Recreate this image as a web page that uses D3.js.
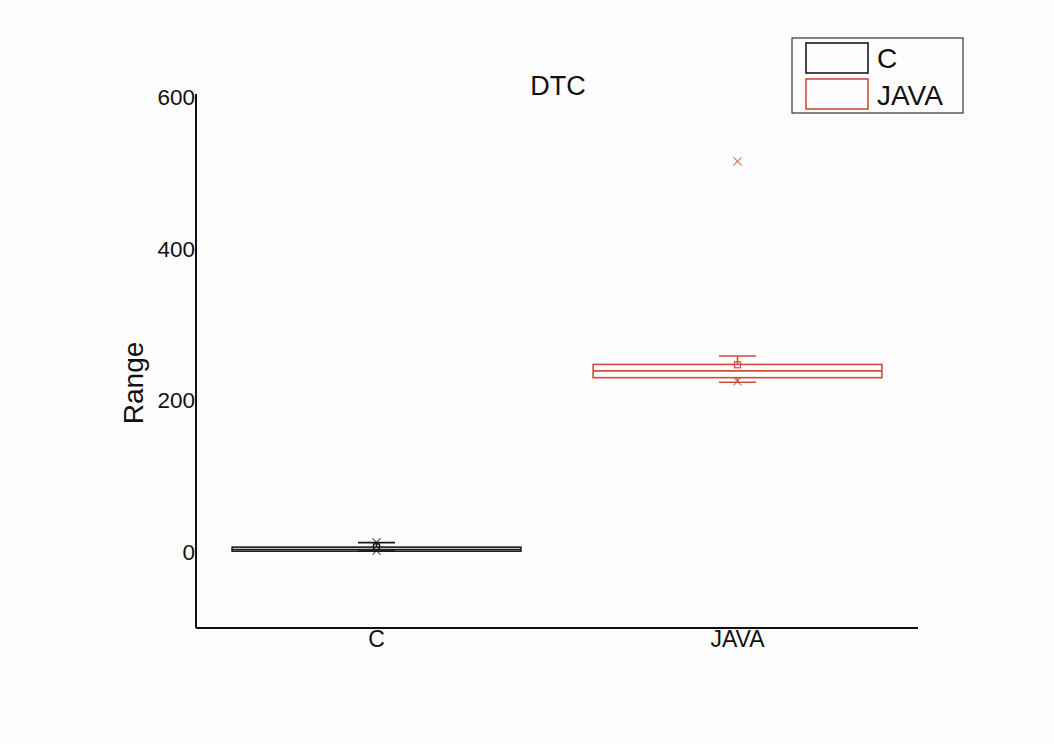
<!DOCTYPE html>
<html>
<head>
<meta charset="utf-8">
<script src="https://cdn.jsdelivr.net/npm/d3@7"></script>
<style>
  body { margin: 0; background: #fdfdfd; }
  text { font-family: "Liberation Sans", Arial, sans-serif; fill: #111; }
</style>
</head>
<body>
<div id="chart"></div>
<script>
const categories = ["C", "JAVA"];
const colors = ["#1a1a1a", "#cc4e3a"];
const q1 = [1.3, 230];
const median = [3.5, 239];
const q3 = [6.6, 247.5];
const whiskerLow = [1.3, 224];
const whiskerHigh = [12.6, 258.5];
const means = [7, 247];
const mins = [2, 225];
const maxs = [13, 515];
const yTicks = [0, 200, 400, 600];

const width = 1054, height = 744;
const margin = { top: 97, right: 136, bottom: 116, left: 196 };

const svg = d3.select('#chart').append("svg")
  .attr("width", width)
  .attr("height", height);

svg.append("rect").attr("width", width).attr("height", height).attr("fill", "#fdfdfd");

const y = d3.scaleLinear()
  .domain([-100, 600])
  .range([height - margin.bottom, margin.top]);

const x = d3.scalePoint()
  .domain(categories)
  .range([margin.left, width - margin.right])
  .padding(0.5);

const boxW = x.step() * 0.8;
const capW = 37;

// axes
svg.append("line")
  .attr("x1", margin.left).attr("x2", margin.left)
  .attr("y1", y(-100)).attr("y2", y(600) - 3)
  .attr("stroke", "#111").attr("stroke-width", 2);
svg.append("line")
  .attr("x1", margin.left).attr("x2", width - margin.right)
  .attr("y1", y(-100)).attr("y2", y(-100))
  .attr("stroke", "#111").attr("stroke-width", 2);

svg.selectAll(".ytick")
  .data(yTicks)
  .join("text")
  .attr("x", margin.left - 1)
  .attr("y", d => y(d))
  .attr("dy", "0.35em")
  .attr("text-anchor", "end")
  .attr("font-size", 22.5)
  .text(d => d);

svg.selectAll(".xtick")
  .data(categories)
  .join("text")
  .attr("x", d => x(d))
  .attr("y", y(-100) + 19)
  .attr("text-anchor", "middle")
  .attr("font-size", 23)
  .text(d => d);

svg.append("text")
  .attr("transform", `translate(143,${y(223)}) rotate(-90)`)
  .attr("text-anchor", "middle")
  .attr("font-size", 28)
  .text("Range");

svg.append("text")
  .attr("x", 558).attr("y", 95)
  .attr("text-anchor", "middle")
  .attr("font-size", 27)
  .text("DTC");

// boxes
const g = svg.append("g").attr("fill", "none").attr("stroke-width", 1.6);

categories.forEach((c, i) => {
  const cx = x(c);
  const col = colors[i];
  const grp = g.append("g").attr("stroke", col);

  // whiskers
  grp.append("line").attr("x1", cx).attr("x2", cx)
    .attr("y1", y(q3[i])).attr("y2", y(whiskerHigh[i]));
  grp.append("line").attr("x1", cx).attr("x2", cx)
    .attr("y1", y(q1[i])).attr("y2", y(whiskerLow[i]));
  grp.append("line").attr("x1", cx - capW / 2).attr("x2", cx + capW / 2)
    .attr("y1", y(whiskerHigh[i])).attr("y2", y(whiskerHigh[i]));
  grp.append("line").attr("x1", cx - capW / 2).attr("x2", cx + capW / 2)
    .attr("y1", y(whiskerLow[i])).attr("y2", y(whiskerLow[i]));

  // box
  grp.append("rect")
    .attr("x", cx - boxW / 2).attr("width", boxW)
    .attr("y", y(q3[i])).attr("height", y(q1[i]) - y(q3[i]));
  grp.append("line").attr("x1", cx - boxW / 2).attr("x2", cx + boxW / 2)
    .attr("y1", y(median[i])).attr("y2", y(median[i]));

  // mean square
  grp.append("rect")
    .attr("x", cx - 3).attr("y", y(means[i]) - 3)
    .attr("width", 6).attr("height", 6)
    .attr("stroke-width", 1.2);

  // min / max crosses
  [mins[i], maxs[i]].forEach(v => {
    const s = 4;
    grp.append("path")
      .attr("d", `M${cx - s},${y(v) - s}L${cx + s},${y(v) + s}M${cx - s},${y(v) + s}L${cx + s},${y(v) - s}`)
      .attr("stroke-width", 1.1)
      .attr("stroke-opacity", 0.8);
  });
});

// legend
const lg = svg.append("g");
lg.append("rect")
  .attr("x", 792).attr("y", 38).attr("width", 171).attr("height", 75)
  .attr("fill", "none").attr("stroke", "#333").attr("stroke-width", 1.2);
categories.forEach((c, i) => {
  lg.append("rect")
    .attr("x", 806).attr("y", 43 + i * 36).attr("width", 62).attr("height", 30)
    .attr("fill", "none").attr("stroke", colors[i]).attr("stroke-width", 1.6);
  lg.append("text")
    .attr("x", 877).attr("y", 68 + i * 37)
    .attr("font-size", 28)
    .text(c);
});
</script>
</body>
</html>
